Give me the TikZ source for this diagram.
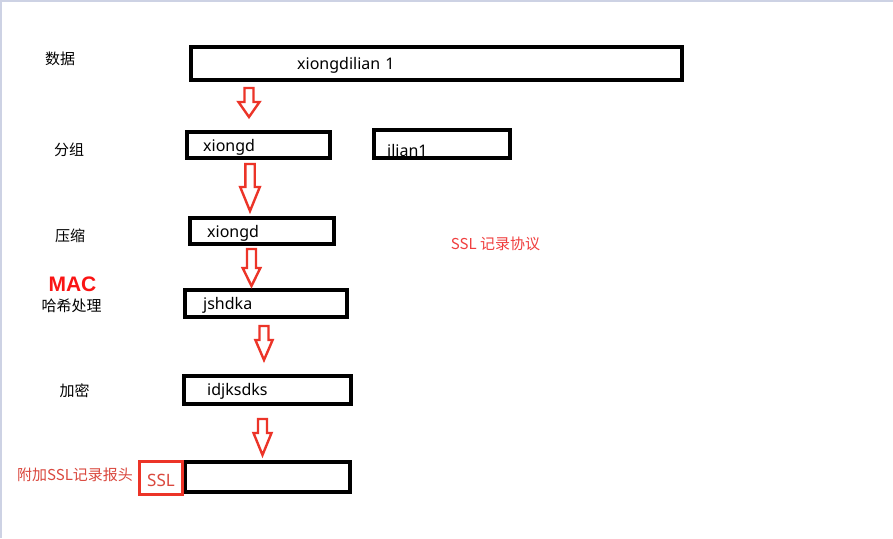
\documentclass[tikz,border=0pt]{standalone}
\usepackage{fontspec}
\setmainfont{Noto Sans}
\newfontfamily\cjk{Noto Sans CJK SC}
\newfontfamily\macfont{Liberation Sans}
\definecolor{arrred}{RGB}{236,52,40}
\definecolor{macred}{RGB}{250,20,20}
\definecolor{hdrred}{RGB}{218,72,62}
\definecolor{sslred}{RGB}{240,62,62}
\definecolor{edge}{RGB}{205,210,228}
\tikzset{
  databox/.style={draw=black, line width=4pt},
  sslbox/.style={draw=arrred, line width=3.2pt},
  hollowarrow/.style={draw=arrred, fill=white, line width=2.4pt, line join=miter},
  boxtext/.style={font=\fontsize{16}{18}\selectfont, inner sep=0pt, anchor=base west},
  steplabel/.style={font=\cjk\fontsize{15}{17}\selectfont, inner sep=0pt},
}
\newcommand{\hollowdown}[6]{% cx, top, headstart, tip, shafthalf, headhalf
  \draw[hollowarrow] (#1-#5,#2) -- (#1+#5,#2) -- (#1+#5,#3) -- (#1+#6,#3) -- (#1,#4)
    -- (#1-#6,#3) -- (#1-#5,#3) -- cycle;}
\begin{document}
\begin{tikzpicture}[x=1pt,y=-1pt]
\useasboundingbox (0,0) rectangle (893,538);
\fill[white] (0,0) rectangle (893,538);
\draw[edge, line width=1.5pt] (0.75,538) -- (0.75,0.75) -- (893,0.75);

% box texts (drawn first so the borders lie over them)
\node[boxtext] (t1) at (297,69) {xiongdilian\kern5pt 1};
\node[boxtext] (t2) at (203,151) {xiongd};
\node[boxtext] (t2x) at (387,156.5) {ilian1};
\node[boxtext] (t3) at (207,237) {xiongd};
\node[boxtext] (t4) at (203,309) {jshdka};
\node[boxtext] (t5) at (207,395.5) {idjksdks};
\node[boxtext, text=hdrred, font=\fontsize{17}{19}\selectfont] (t6) at (147,486.5) {SSL};

% boxes
\coordinate (b1a) at (191,47);  \coordinate (b1b) at (682,80);
\draw[databox] (b1a) rectangle (b1b);
\coordinate (b2a) at (187,132); \coordinate (b2b) at (330,158);
\draw[databox] (b2a) rectangle (b2b);
\coordinate (b2xa) at (374,130); \coordinate (b2xb) at (510,158);
\draw[databox] (b2xa) rectangle (b2xb);
\coordinate (b3a) at (190,218); \coordinate (b3b) at (334,244);
\draw[databox] (b3a) rectangle (b3b);
\coordinate (b4a) at (185,290); \coordinate (b4b) at (347,317);
\draw[databox] (b4a) rectangle (b4b);
\coordinate (b5a) at (184,376); \coordinate (b5b) at (351,404);
\draw[databox] (b5a) rectangle (b5b);
\coordinate (b6a) at (185,462); \coordinate (b6b) at (350,492);
\draw[databox] (b6a) rectangle (b6b);
\coordinate (sa) at (139.5,461.5); \coordinate (sb) at (182.5,494.5);
\draw[sslbox] (sa) rectangle (sb);

% arrows
\hollowdown{249}{88}{102}{117}{4.5}{10.5}
\hollowdown{250}{164}{187}{211}{4.7}{9.8}
\hollowdown{251.5}{249}{268}{286}{4.5}{8.8}
\hollowdown{264}{326}{340}{360}{4.5}{8.6}
\hollowdown{262.5}{419}{433}{455}{4.5}{9.0}

% left labels
\node[steplabel] (l1) at (60,58.5) {数据};
\node[steplabel] (l2) at (69,150) {分组};
\node[steplabel] (l3) at (70,236) {压缩};
\node[font=\macfont\bfseries\fontsize{21}{23}\selectfont, text=macred, inner sep=0pt] (mac) at (72.5,284.5) {MAC};
\node[steplabel] (l4) at (71.5,306) {哈希处理};
\node[steplabel] (l5) at (74.5,391) {加密};
\node[steplabel, text=hdrred] (l6) at (75,475) {附加SSL记录报头};
\node[steplabel, text=sslred] (proto) at (495.5,244) {SSL 记录协议};
\end{tikzpicture}
\end{document}
